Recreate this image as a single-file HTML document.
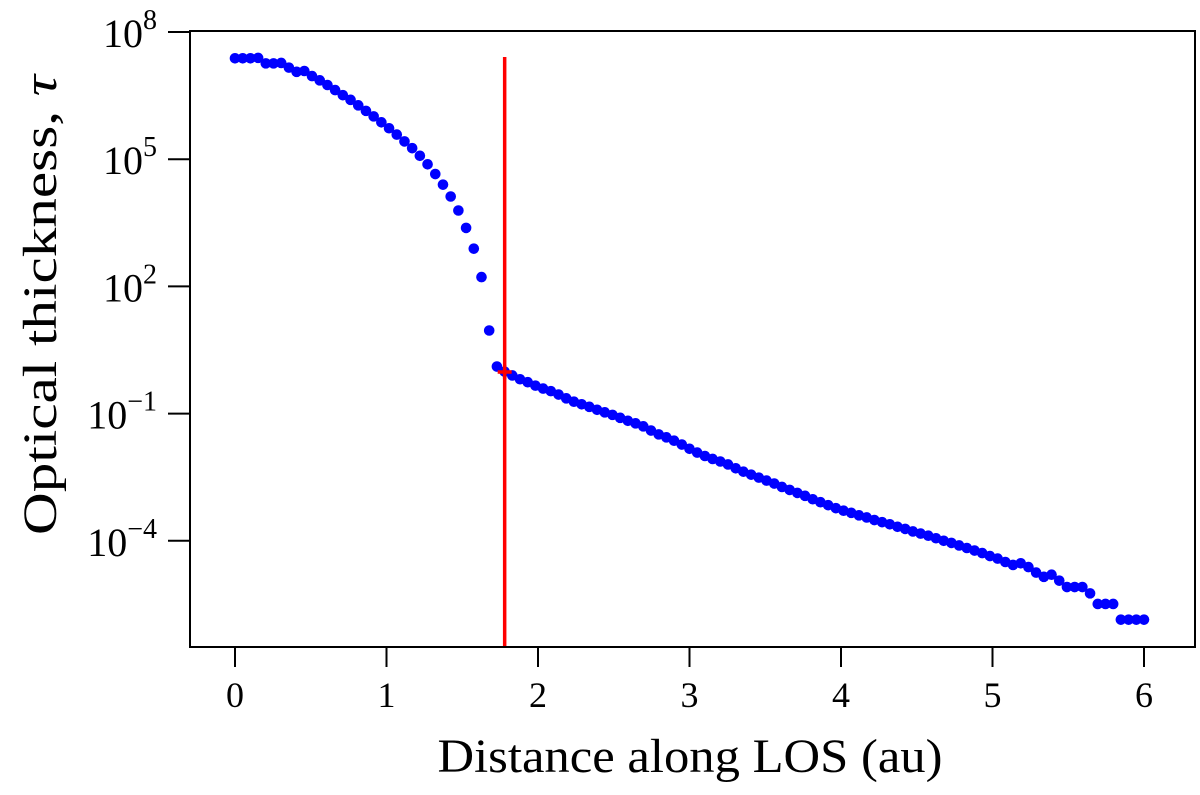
<!DOCTYPE html>
<html><head><meta charset="utf-8"><style>
body{margin:0;background:#fff;}
svg text{font-family:"Liberation Serif","DejaVu Serif",serif;fill:#000;}
</style></head><body>
<svg id="chart" width="1200" height="790" xmlns="http://www.w3.org/2000/svg">
<g id="marks"></g>
<g id="axes"></g>
</svg>
<script>
const xTicks=[0,1,2,3,4,5,6];
const yTickExp=[8,5,2,-1,-4];
const logTau=[7.38,7.38,7.38,7.39,7.26,7.26,7.27,7.16,7.06,7.08,6.96,6.86,6.75,6.63,6.51,6.40,6.27,6.14,6.01,5.87,5.73,5.58,5.42,5.26,5.08,4.88,4.65,4.40,4.12,3.79,3.38,2.89,2.22,0.96,0.11,-0.01,
-0.10,-0.19,-0.26,-0.34,-0.41,-0.47,-0.55,-0.64,-0.72,-0.78,-0.84,-0.91,-0.97,-1.03,-1.10,-1.17,-1.23,-1.30,-1.40,-1.49,-1.56,-1.64,-1.73,-1.83,-1.92,-2.00,-2.07,-2.13,-2.20,-2.29,-2.37,-2.44,-2.51,-2.58,-2.65,-2.73,-2.80,-2.87,-2.94,-3.02,-3.09,-3.16,-3.23,-3.29,-3.34,-3.40,-3.45,-3.51,-3.56,-3.61,-3.67,-3.72,-3.78,-3.83,-3.88,-3.94,-4.00,-4.05,-4.11,-4.17,-4.23,-4.29,-4.36,-4.42,-4.50,-4.57,-4.53,-4.62,-4.75,-4.85,-4.80,-4.94,-5.09,-5.09,-5.09,-5.24,-5.49,-5.49,-5.49,-5.86,-5.86,-5.86,-5.86];
const xMax=6;
const redX=1.78;
const redTop=7.41;
const redMarkLog=-0.02;

const NS="http://www.w3.org/2000/svg";
const L=190,T=31,R=1195,B=647;
function sx(v){return 235+v*151.5;}
function sy(l){return 32+(8-l)*42.4;}
function mk(tag,attrs,parent){const e=document.createElementNS(NS,tag);for(const k in attrs)e.setAttribute(k,attrs[k]);parent.appendChild(e);return e;}
const marks=document.getElementById('marks'),axes=document.getElementById('axes');
const n=logTau.length;
logTau.forEach((l,i)=>{
  const x=i*xMax/(n-1);
  const c=mk('circle',{cx:sx(x),cy:sy(l),r:5.3,fill:'#0000ff'},marks);
  
  
});
const rl=mk('line',{x1:sx(redX),x2:sx(redX),y1:sy(redTop),y2:B,stroke:'#ff0000','stroke-width':3.5},marks);


const rm=mk('path',{d:`M${sx(redX)-7},${sy(redMarkLog)}h14M${sx(redX)},${sy(redMarkLog)-7}v14`,stroke:'#ff0000','stroke-width':3.5},marks);


const fr=mk('rect',{x:L,y:T,width:R-L,height:B-T,fill:'none',stroke:'#000','stroke-width':2},axes);


xTicks.forEach(v=>{
  const t=mk('line',{x1:sx(v),x2:sx(v),y1:B,y2:B+20,stroke:'#000','stroke-width':2},axes);
  
  
  const tx=mk('text',{x:sx(v),y:B+60,'text-anchor':'middle','font-size':36},axes);
  tx.textContent=v;
  
  
});
yTickExp.forEach(e=>{
  const t=mk('line',{x1:L-22,x2:L,y1:sy(e),y2:sy(e),stroke:'#000','stroke-width':2},axes);
  
  
  const tx=mk('text',{x:157,y:sy(e)+15,'text-anchor':'end','font-size':40},axes);
  
  
  tx.appendChild(document.createTextNode('10'));
  const sp=mk('tspan',{dy:-18,'font-size':28},tx);
  sp.textContent=e<0?'\u2212'+(-e):String(e);
});
const xl=mk('text',{x:690,y:772,'text-anchor':'middle','font-size':48,textLength:505,lengthAdjust:'spacingAndGlyphs'},axes);
xl.textContent='Distance along LOS (au)';


const yl=mk('text',{x:0,y:0,'text-anchor':'middle','font-size':48,textLength:460,lengthAdjust:'spacingAndGlyphs',transform:'translate(56,305) rotate(-90)'},axes);
yl.appendChild(document.createTextNode('Optical thickness, '));
const tau=mk('tspan',{'font-style':'italic'},yl);tau.textContent='τ';


</script>
</body></html>
